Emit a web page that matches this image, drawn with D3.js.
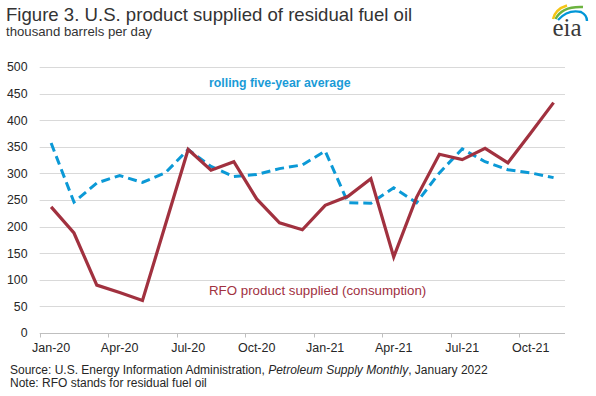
<!DOCTYPE html>
<html>
<head>
<meta charset="utf-8">
<script src="https://cdn.jsdelivr.net/npm/d3@7"></script>
<style>
  html, body { margin: 0; padding: 0; background: #fff; }
  svg { display: block; font-family: "Liberation Sans", Arial, sans-serif; }
</style>
</head>
<body>
<svg id="chart" width="596" height="396"></svg>
<script>
const months = ["Jan-20","Feb-20","Mar-20","Apr-20","May-20","Jun-20","Jul-20","Aug-20","Sep-20","Oct-20","Nov-20","Dec-20",
                "Jan-21","Feb-21","Mar-21","Apr-21","May-21","Jun-21","Jul-21","Aug-21","Sep-21","Oct-21","Nov-21"];
const rfoSupplied = [237, 188, 90, 76, 61, 203, 345, 306, 322, 252, 207, 194, 240, 257, 290, 143, 255, 336, 326, 347, 320, 376, 433];
const fiveYearAvg = [357, 246, 282, 296, 283, 301, 345, 313, 294, 298, 309, 316, 342, 245, 244, 273, 245, 301, 346, 322, 307, 301, 292];
const yTicks = [0, 50, 100, 150, 200, 250, 300, 350, 400, 450, 500];
const xTickLabels = ["Jan-20","Apr-20","Jul-20","Oct-20","Jan-21","Apr-21","Jul-21","Oct-21"];

const svg = d3.select("#chart");
const plotLeft = 39.7, plotRight = 565, plotTop = 67, plotBottom = 333;

const x = d3.scaleBand().domain(months).range([plotLeft, plotRight]).padding(0);
const y = d3.scaleLinear().domain([0, 500]).range([plotBottom, plotTop]);
const cx = m => x(m) + x.bandwidth() / 2;

// Title
svg.append("text").attr("x", 6).attr("y", 21).attr("font-size", 18.6).attr("fill", "#333")
  .text("Figure 3. U.S. product supplied of residual fuel oil");
svg.append("text").attr("x", 6).attr("y", 35.7).attr("font-size", 13.2).attr("fill", "#333")
  .text("thousand barrels per day");

// Logo
const logo = svg.append("g");
logo.append("path").attr("d", "M553,19 Q555.5,9 567,5.5").attr("fill", "none").attr("stroke", "#f5c516").attr("stroke-width", 2.4);
logo.append("path").attr("d", "M555.5,19 Q562,6 583,7").attr("fill", "none").attr("stroke", "#6cb33f").attr("stroke-width", 2.4);
logo.append("path").attr("d", "M558,20 Q568,9 581,12 Q587,15 587,21").attr("fill", "none").attr("stroke", "#0096d7").attr("stroke-width", 2.4);
logo.append("text").attr("x", 567).attr("y", 36).attr("text-anchor", "middle")
  .attr("font-family", "'Liberation Serif', 'DejaVu Serif', serif").attr("font-size", 25).attr("fill", "#3a3a3a").text("eia");

// Gridlines
svg.append("g").selectAll("line").data(yTicks.filter(d => d > 0)).join("line")
  .attr("x1", plotLeft).attr("x2", plotRight)
  .attr("y1", d => Math.round(y(d)) + 0.5).attr("y2", d => Math.round(y(d)) + 0.5)
  .attr("stroke", "#d9d9d9").attr("stroke-width", 1);

// Y axis labels
svg.append("g").selectAll("text").data(yTicks).join("text")
  .attr("x", 27.5).attr("y", d => y(d)).attr("dy", "0.35em")
  .attr("text-anchor", "end").attr("font-size", 12.3).attr("fill", "#262626")
  .text(d => d);

// X axis
const xAxis = d3.axisBottom(x).tickValues(xTickLabels).tickSize(0).tickPadding(0);
const gx = svg.append("g").attr("transform", `translate(0,${Math.round(plotBottom) + 0.5})`).call(xAxis);
gx.select(".domain").attr("stroke", "#bfbfbf").attr("d", `M${plotLeft},0H${plotRight}`);
gx.selectAll(".tick text").attr("font-size", 12.5).attr("fill", "#262626")
  .attr("font-family", "'Liberation Sans', Arial, sans-serif").attr("y", 18.5).attr("dy", null);
gx.selectAll(".tick line").remove();
// boundary ticks
gx.append("g").selectAll("line").data(xTickLabels).join("line")
  .attr("x1", d => Math.round(x(d)) + 0.5).attr("x2", d => Math.round(x(d)) + 0.5)
  .attr("y1", 0).attr("y2", 4).attr("stroke", "#bfbfbf");

// Lines
const line = d3.line().x((d, i) => cx(months[i])).y(d => y(d));
svg.append("path").datum(fiveYearAvg).attr("d", line).attr("fill", "none")
  .attr("stroke", "#0b99d6").attr("stroke-width", 3).attr("stroke-dasharray", "9,5");
svg.append("path").datum(rfoSupplied).attr("d", line).attr("fill", "none")
  .attr("stroke", "#a1313f").attr("stroke-width", 3.2).attr("stroke-linejoin", "miter");

// Series labels
svg.append("text").attr("x", 209).attr("y", 86.5).attr("font-size", 12.3).attr("font-weight", "bold")
  .attr("fill", "#1a9bd7").text("rolling five-year average");
svg.append("text").attr("x", 209).attr("y", 295).attr("font-size", 13.3)
  .attr("fill", "#a1313f").text("RFO product supplied (consumption)");

// Source
const src = svg.append("text").attr("x", 10).attr("y", 374).attr("font-size", 12).attr("fill", "#262626");
src.append("tspan").text("Source: U.S. Energy Information Administration, ");
src.append("tspan").attr("font-style", "italic").text("Petroleum Supply Monthly");
src.append("tspan").text(", January 2022");
svg.append("text").attr("x", 10).attr("y", 387).attr("font-size", 12).attr("fill", "#262626")
  .text("Note: RFO stands for residual fuel oil");
</script>
</body>
</html>
